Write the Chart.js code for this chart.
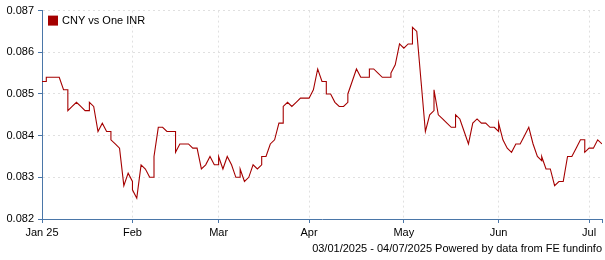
<!DOCTYPE html>
<html>
<head>
<meta charset="utf-8">
<script src="https://cdn.jsdelivr.net/npm/chart.js@4.4.1/dist/chart.umd.min.js"></script>
<style>
  body { margin: 0; background: #fff; }
  #wrap { width: 605px; height: 260px; }
</style>
</head>
<body>
<div id="wrap"><canvas id="canvas" width="605" height="260"></canvas></div>
<script>
// month tick labels, placed at the trading-day index where each month starts
var tickLabels = ['Jan 25', 'Feb', 'Mar', 'Apr', 'May', 'Jun', 'Jul'];
var tickDays = [0, 21, 41, 62, 84, 106, 127];
var lastDay = 130;

// trading-day index (repeated where the rate jumps on the same day)
var days = [0, 1, 1, 2, 3, 4, 5, 6, 6, 7, 8, 9, 10, 11, 11, 12, 13, 14, 15, 16, 16, 17, 18, 19, 20,
    21, 21, 22, 23, 24, 25, 26, 26, 27, 28, 29, 30, 31, 31, 32, 33, 34, 35, 36, 37, 38, 39, 40,
    41, 41, 42, 43, 44, 45, 46, 46, 47, 48, 49, 50, 51, 51, 52, 53, 54, 55, 56, 56, 57, 58, 59, 60, 61,
    62, 63, 64, 65, 66, 66, 67, 68, 69, 70, 71, 71, 72, 73, 74, 75, 76, 76, 77, 78, 79, 80, 81, 81, 82, 83,
    84, 85, 86, 86, 87, 88, 89, 90, 91, 91, 92, 93, 94, 95, 96, 96, 97, 98, 99, 100, 101, 102, 103, 104, 105,
    106, 106, 107, 108, 109, 110, 111, 112, 113, 114, 115, 116, 116, 117, 118, 119, 120, 121, 122, 123, 124, 125,
    126, 126, 127, 128, 129, 130];

// CNY per one INR
var rates = [0.0853, 0.0853, 0.0854, 0.0854, 0.0854, 0.0854, 0.0851, 0.0851, 0.0846, 0.0847, 0.0848, 0.0847, 0.0846, 0.0846, 0.0848, 0.0847, 0.0841, 0.0843, 0.0841, 0.0841, 0.0839, 0.0838, 0.0837, 0.0828, 0.0831,
    0.0829, 0.0827, 0.0825, 0.0833, 0.0832, 0.0830, 0.0830, 0.0835, 0.0842, 0.0842, 0.0841, 0.0841, 0.0841, 0.0836, 0.0838, 0.0838, 0.0838, 0.0837, 0.0837, 0.0832, 0.0833, 0.0835, 0.0833,
    0.0833, 0.0835, 0.0832, 0.0835, 0.0833, 0.0830, 0.0830, 0.0832, 0.0829, 0.0830, 0.0833, 0.0832, 0.0833, 0.0835, 0.0835, 0.0838, 0.0839, 0.0843, 0.0843, 0.0847, 0.0848, 0.0847, 0.0848, 0.0849, 0.0849,
    0.0849, 0.0851, 0.0856, 0.0853, 0.0853, 0.0850, 0.0850, 0.0848, 0.0847, 0.0847, 0.0848, 0.0850, 0.0853, 0.0856, 0.0854, 0.0854, 0.0854, 0.0856, 0.0856, 0.0855, 0.0854, 0.0854, 0.0854, 0.0855, 0.0857, 0.0862,
    0.0861, 0.0862, 0.0862, 0.0866, 0.0865, 0.0853, 0.0841, 0.0845, 0.0846, 0.0851, 0.0845, 0.0844, 0.0843, 0.0842, 0.0842, 0.0845, 0.0844, 0.0841, 0.0838, 0.0843, 0.0844, 0.0843, 0.0843, 0.0842, 0.0842,
    0.0841, 0.0843, 0.0839, 0.0837, 0.0836, 0.0838, 0.0838, 0.0840, 0.0842, 0.0838, 0.0835, 0.0834, 0.0835, 0.0832, 0.0832, 0.0828, 0.0829, 0.0829, 0.0835, 0.0835, 0.0837, 0.0839,
    0.0839, 0.0836, 0.0837, 0.0837, 0.0839, 0.0838];

var seriesName = 'CNY vs One INR';
var footerText = '03/01/2025 - 04/07/2025 Powered by data from FE fundinfo';

var lineColor = '#a50000';
var axisColor = '#4a76a8';
var gridColor = '#e0e0e0';
var fontFamily = 'Arial, "Liberation Sans", sans-serif';

var points = [];
for (var i = 0; i < days.length; i++) {
    points.push({ x: days[i], y: rates[i] });
}

// legend inside the plot + source line under the axis
var extras = {
    id: 'extras',
    afterDraw: function (chart) {
        var ctx = chart.ctx;
        var area = chart.chartArea;
        ctx.save();
        ctx.fillStyle = lineColor;
        ctx.fillRect(area.left + 6, area.top + 5, 10, 10);
        ctx.fillStyle = '#000';
        ctx.font = '11px ' + fontFamily;
        ctx.textBaseline = 'middle';
        ctx.textAlign = 'left';
        ctx.fillText(chart.data.datasets[0].label, area.left + 20, area.top + 10.5);
        ctx.textAlign = 'right';
        ctx.fillText(footerText, chart.width - 3, 249);
        ctx.restore();
    }
};

var ctx = document.getElementById('canvas');
var chart = new Chart(ctx, {
    type: 'line',
    data: {
        datasets: [{
            label: seriesName,
            data: points,
            borderColor: lineColor,
            backgroundColor: lineColor,
            borderWidth: 1.1,
            pointRadius: 0,
            tension: 0,
            fill: false
        }]
    },
    options: {
        responsive: false,
        animation: false,
        layout: { padding: { top: 9, right: 1, left: 0, bottom: 0 } },
        plugins: {
            legend: { display: false },
            tooltip: { enabled: false }
        },
        scales: {
            x: {
                type: 'linear',
                min: 0,
                max: lastDay,
                afterBuildTicks: function (scale) {
                    scale.ticks = tickDays.concat([lastDay]).map(function (v) { return { value: v }; });
                },
                afterFit: function (scale) { scale.height = 41; },
                ticks: {
                    autoSkip: false,
                    maxRotation: 0,
                    padding: 3,
                    color: '#000',
                    font: { family: fontFamily, size: 11 },
                    callback: function (value) {
                        var k = tickDays.indexOf(value);
                        return k >= 0 ? tickLabels[k] : '';
                    }
                },
                grid: {
                    color: function (c) { return c.tick && c.tick.value === lastDay ? 'rgba(0,0,0,0)' : gridColor; },
                    tickColor: axisColor,
                    tickLength: 4,
                    tickBorderDash: []
                },
                border: { color: axisColor, width: 1, dash: [2, 3] }
            },
            y: {
                min: 0.082,
                max: 0.087,
                afterFit: function (scale) { scale.width = 42; },
                ticks: {
                    stepSize: 0.001,
                    padding: 4,
                    color: '#000',
                    font: { family: fontFamily, size: 11 },
                    callback: function (v) { return v.toFixed(3); }
                },
                grid: {
                    color: gridColor,
                    tickColor: axisColor,
                    tickLength: 4,
                    tickBorderDash: []
                },
                border: { color: axisColor, width: 1, dash: [2, 3] }
            }
        }
    },
    plugins: [extras]
});
</script>
</body>
</html>
